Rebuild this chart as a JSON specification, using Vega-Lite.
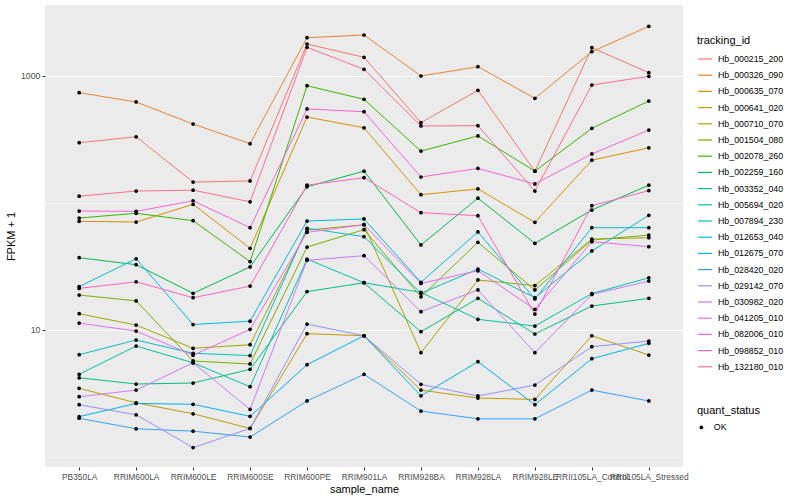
{
  "$schema": "https://vega.github.io/schema/vega-lite/v6.json",
  "width": 638,
  "height": 462,
  "autosize": {"type": "none"},
  "padding": {"left": 45, "top": 5, "right": 117, "bottom": 33},
  "background": "white",
  "config": {
    "font": "Liberation Sans",
    "view": {"fill": "#EBEBEB", "stroke": null},
    "axis": {"domain": false, "tickColor": "#333333", "tickSize": 3, "labelColor": "#4D4D4D", "labelFontSize": 8.8, "titleFontSize": 11, "titleFontWeight": "normal", "titleColor": "black", "gridColor": "white"},
    "legend": {"padding": 0, "titleFontSize": 11, "titleFontWeight": "normal", "titleColor": "black", "labelFontSize": 8.8, "labelColor": "black"}
  },
  "data": {"values": [
    {"sample_name":"PB350LA","tracking_id":"Hb_000215_200","FPKM":298,"quant_status":"OK"},
    {"sample_name":"RRIM600LA","tracking_id":"Hb_000215_200","FPKM":332,"quant_status":"OK"},
    {"sample_name":"RRIM600LE","tracking_id":"Hb_000215_200","FPKM":146,"quant_status":"OK"},
    {"sample_name":"RRIM600SE","tracking_id":"Hb_000215_200","FPKM":149,"quant_status":"OK"},
    {"sample_name":"RRIM600PE","tracking_id":"Hb_000215_200","FPKM":1787,"quant_status":"OK"},
    {"sample_name":"RRIM901LA","tracking_id":"Hb_000215_200","FPKM":1404,"quant_status":"OK"},
    {"sample_name":"RRIM928BA","tracking_id":"Hb_000215_200","FPKM":429,"quant_status":"OK"},
    {"sample_name":"RRIM928LA","tracking_id":"Hb_000215_200","FPKM":771,"quant_status":"OK"},
    {"sample_name":"RRIM928LE","tracking_id":"Hb_000215_200","FPKM":178,"quant_status":"OK"},
    {"sample_name":"RRII105LA_Control","tracking_id":"Hb_000215_200","FPKM":1671,"quant_status":"OK"},
    {"sample_name":"RRII105LA_Stressed","tracking_id":"Hb_000215_200","FPKM":1062,"quant_status":"OK"},

    {"sample_name":"PB350LA","tracking_id":"Hb_000326_090","FPKM":739,"quant_status":"OK"},
    {"sample_name":"RRIM600LA","tracking_id":"Hb_000326_090","FPKM":624,"quant_status":"OK"},
    {"sample_name":"RRIM600LE","tracking_id":"Hb_000326_090","FPKM":418,"quant_status":"OK"},
    {"sample_name":"RRIM600SE","tracking_id":"Hb_000326_090","FPKM":293,"quant_status":"OK"},
    {"sample_name":"RRIM600PE","tracking_id":"Hb_000326_090","FPKM":2003,"quant_status":"OK"},
    {"sample_name":"RRIM901LA","tracking_id":"Hb_000326_090","FPKM":2104,"quant_status":"OK"},
    {"sample_name":"RRIM928BA","tracking_id":"Hb_000326_090","FPKM":1000,"quant_status":"OK"},
    {"sample_name":"RRIM928LA","tracking_id":"Hb_000326_090","FPKM":1184,"quant_status":"OK"},
    {"sample_name":"RRIM928LE","tracking_id":"Hb_000326_090","FPKM":667,"quant_status":"OK"},
    {"sample_name":"RRII105LA_Control","tracking_id":"Hb_000326_090","FPKM":1554,"quant_status":"OK"},
    {"sample_name":"RRII105LA_Stressed","tracking_id":"Hb_000326_090","FPKM":2463,"quant_status":"OK"},

    {"sample_name":"PB350LA","tracking_id":"Hb_000635_070","FPKM":71.6,"quant_status":"OK"},
    {"sample_name":"RRIM600LA","tracking_id":"Hb_000635_070","FPKM":70.7,"quant_status":"OK"},
    {"sample_name":"RRIM600LE","tracking_id":"Hb_000635_070","FPKM":97.5,"quant_status":"OK"},
    {"sample_name":"RRIM600SE","tracking_id":"Hb_000635_070","FPKM":43.9,"quant_status":"OK"},
    {"sample_name":"RRIM600PE","tracking_id":"Hb_000635_070","FPKM":475,"quant_status":"OK"},
    {"sample_name":"RRIM901LA","tracking_id":"Hb_000635_070","FPKM":391,"quant_status":"OK"},
    {"sample_name":"RRIM928BA","tracking_id":"Hb_000635_070","FPKM":116,"quant_status":"OK"},
    {"sample_name":"RRIM928LA","tracking_id":"Hb_000635_070","FPKM":129,"quant_status":"OK"},
    {"sample_name":"RRIM928LE","tracking_id":"Hb_000635_070","FPKM":70.3,"quant_status":"OK"},
    {"sample_name":"RRII105LA_Control","tracking_id":"Hb_000635_070","FPKM":217,"quant_status":"OK"},
    {"sample_name":"RRII105LA_Stressed","tracking_id":"Hb_000635_070","FPKM":272,"quant_status":"OK"},

    {"sample_name":"PB350LA","tracking_id":"Hb_000641_020","FPKM":3.46,"quant_status":"OK"},
    {"sample_name":"RRIM600LA","tracking_id":"Hb_000641_020","FPKM":2.66,"quant_status":"OK"},
    {"sample_name":"RRIM600LE","tracking_id":"Hb_000641_020","FPKM":2.18,"quant_status":"OK"},
    {"sample_name":"RRIM600SE","tracking_id":"Hb_000641_020","FPKM":1.67,"quant_status":"OK"},
    {"sample_name":"RRIM600PE","tracking_id":"Hb_000641_020","FPKM":9.32,"quant_status":"OK"},
    {"sample_name":"RRIM901LA","tracking_id":"Hb_000641_020","FPKM":8.98,"quant_status":"OK"},
    {"sample_name":"RRIM928BA","tracking_id":"Hb_000641_020","FPKM":3.35,"quant_status":"OK"},
    {"sample_name":"RRIM928LA","tracking_id":"Hb_000641_020","FPKM":2.90,"quant_status":"OK"},
    {"sample_name":"RRIM928LE","tracking_id":"Hb_000641_020","FPKM":2.83,"quant_status":"OK"},
    {"sample_name":"RRII105LA_Control","tracking_id":"Hb_000641_020","FPKM":8.98,"quant_status":"OK"},
    {"sample_name":"RRII105LA_Stressed","tracking_id":"Hb_000641_020","FPKM":6.33,"quant_status":"OK"},

    {"sample_name":"PB350LA","tracking_id":"Hb_000710_070","FPKM":13.4,"quant_status":"OK"},
    {"sample_name":"RRIM600LA","tracking_id":"Hb_000710_070","FPKM":10.9,"quant_status":"OK"},
    {"sample_name":"RRIM600LE","tracking_id":"Hb_000710_070","FPKM":7.15,"quant_status":"OK"},
    {"sample_name":"RRIM600SE","tracking_id":"Hb_000710_070","FPKM":7.63,"quant_status":"OK"},
    {"sample_name":"RRIM600PE","tracking_id":"Hb_000710_070","FPKM":61.1,"quant_status":"OK"},
    {"sample_name":"RRIM901LA","tracking_id":"Hb_000710_070","FPKM":67.3,"quant_status":"OK"},
    {"sample_name":"RRIM928BA","tracking_id":"Hb_000710_070","FPKM":6.60,"quant_status":"OK"},
    {"sample_name":"RRIM928LA","tracking_id":"Hb_000710_070","FPKM":24.7,"quant_status":"OK"},
    {"sample_name":"RRIM928LE","tracking_id":"Hb_000710_070","FPKM":22.3,"quant_status":"OK"},
    {"sample_name":"RRII105LA_Control","tracking_id":"Hb_000710_070","FPKM":51.9,"quant_status":"OK"},
    {"sample_name":"RRII105LA_Stressed","tracking_id":"Hb_000710_070","FPKM":53.2,"quant_status":"OK"},

    {"sample_name":"PB350LA","tracking_id":"Hb_001504_080","FPKM":18.8,"quant_status":"OK"},
    {"sample_name":"RRIM600LA","tracking_id":"Hb_001504_080","FPKM":16.9,"quant_status":"OK"},
    {"sample_name":"RRIM600LE","tracking_id":"Hb_001504_080","FPKM":5.68,"quant_status":"OK"},
    {"sample_name":"RRIM600SE","tracking_id":"Hb_001504_080","FPKM":5.38,"quant_status":"OK"},
    {"sample_name":"RRIM600PE","tracking_id":"Hb_001504_080","FPKM":44.9,"quant_status":"OK"},
    {"sample_name":"RRIM901LA","tracking_id":"Hb_001504_080","FPKM":61.5,"quant_status":"OK"},
    {"sample_name":"RRIM928BA","tracking_id":"Hb_001504_080","FPKM":18.2,"quant_status":"OK"},
    {"sample_name":"RRIM928LA","tracking_id":"Hb_001504_080","FPKM":48.9,"quant_status":"OK"},
    {"sample_name":"RRIM928LE","tracking_id":"Hb_001504_080","FPKM":20.6,"quant_status":"OK"},
    {"sample_name":"RRII105LA_Control","tracking_id":"Hb_001504_080","FPKM":51.0,"quant_status":"OK"},
    {"sample_name":"RRII105LA_Stressed","tracking_id":"Hb_001504_080","FPKM":55.8,"quant_status":"OK"},

    {"sample_name":"PB350LA","tracking_id":"Hb_002078_260","FPKM":76.0,"quant_status":"OK"},
    {"sample_name":"RRIM600LA","tracking_id":"Hb_002078_260","FPKM":82.8,"quant_status":"OK"},
    {"sample_name":"RRIM600LE","tracking_id":"Hb_002078_260","FPKM":72.4,"quant_status":"OK"},
    {"sample_name":"RRIM600SE","tracking_id":"Hb_002078_260","FPKM":34.5,"quant_status":"OK"},
    {"sample_name":"RRIM600PE","tracking_id":"Hb_002078_260","FPKM":839,"quant_status":"OK"},
    {"sample_name":"RRIM901LA","tracking_id":"Hb_002078_260","FPKM":655,"quant_status":"OK"},
    {"sample_name":"RRIM928BA","tracking_id":"Hb_002078_260","FPKM":256,"quant_status":"OK"},
    {"sample_name":"RRIM928LA","tracking_id":"Hb_002078_260","FPKM":337,"quant_status":"OK"},
    {"sample_name":"RRIM928LE","tracking_id":"Hb_002078_260","FPKM":178,"quant_status":"OK"},
    {"sample_name":"RRII105LA_Control","tracking_id":"Hb_002078_260","FPKM":387,"quant_status":"OK"},
    {"sample_name":"RRII105LA_Stressed","tracking_id":"Hb_002078_260","FPKM":635,"quant_status":"OK"},

    {"sample_name":"PB350LA","tracking_id":"Hb_002259_160","FPKM":37.0,"quant_status":"OK"},
    {"sample_name":"RRIM600LA","tracking_id":"Hb_002259_160","FPKM":32.6,"quant_status":"OK"},
    {"sample_name":"RRIM600LE","tracking_id":"Hb_002259_160","FPKM":19.4,"quant_status":"OK"},
    {"sample_name":"RRIM600SE","tracking_id":"Hb_002259_160","FPKM":31.3,"quant_status":"OK"},
    {"sample_name":"RRIM600PE","tracking_id":"Hb_002259_160","FPKM":134,"quant_status":"OK"},
    {"sample_name":"RRIM901LA","tracking_id":"Hb_002259_160","FPKM":178,"quant_status":"OK"},
    {"sample_name":"RRIM928BA","tracking_id":"Hb_002259_160","FPKM":46.6,"quant_status":"OK"},
    {"sample_name":"RRIM928LA","tracking_id":"Hb_002259_160","FPKM":109,"quant_status":"OK"},
    {"sample_name":"RRIM928LE","tracking_id":"Hb_002259_160","FPKM":48.0,"quant_status":"OK"},
    {"sample_name":"RRII105LA_Control","tracking_id":"Hb_002259_160","FPKM":87.9,"quant_status":"OK"},
    {"sample_name":"RRII105LA_Stressed","tracking_id":"Hb_002259_160","FPKM":138,"quant_status":"OK"},

    {"sample_name":"PB350LA","tracking_id":"Hb_003352_040","FPKM":4.19,"quant_status":"OK"},
    {"sample_name":"RRIM600LA","tracking_id":"Hb_003352_040","FPKM":3.74,"quant_status":"OK"},
    {"sample_name":"RRIM600LE","tracking_id":"Hb_003352_040","FPKM":3.81,"quant_status":"OK"},
    {"sample_name":"RRIM600SE","tracking_id":"Hb_003352_040","FPKM":4.88,"quant_status":"OK"},
    {"sample_name":"RRIM600PE","tracking_id":"Hb_003352_040","FPKM":20.0,"quant_status":"OK"},
    {"sample_name":"RRIM901LA","tracking_id":"Hb_003352_040","FPKM":23.5,"quant_status":"OK"},
    {"sample_name":"RRIM928BA","tracking_id":"Hb_003352_040","FPKM":9.66,"quant_status":"OK"},
    {"sample_name":"RRIM928LA","tracking_id":"Hb_003352_040","FPKM":17.7,"quant_status":"OK"},
    {"sample_name":"RRIM928LE","tracking_id":"Hb_003352_040","FPKM":9.27,"quant_status":"OK"},
    {"sample_name":"RRII105LA_Control","tracking_id":"Hb_003352_040","FPKM":15.4,"quant_status":"OK"},
    {"sample_name":"RRII105LA_Stressed","tracking_id":"Hb_003352_040","FPKM":17.7,"quant_status":"OK"},

    {"sample_name":"PB350LA","tracking_id":"Hb_005694_020","FPKM":4.46,"quant_status":"OK"},
    {"sample_name":"RRIM600LA","tracking_id":"Hb_005694_020","FPKM":7.45,"quant_status":"OK"},
    {"sample_name":"RRIM600LE","tracking_id":"Hb_005694_020","FPKM":5.50,"quant_status":"OK"},
    {"sample_name":"RRIM600SE","tracking_id":"Hb_005694_020","FPKM":3.56,"quant_status":"OK"},
    {"sample_name":"RRIM600PE","tracking_id":"Hb_005694_020","FPKM":36.1,"quant_status":"OK"},
    {"sample_name":"RRIM901LA","tracking_id":"Hb_005694_020","FPKM":23.5,"quant_status":"OK"},
    {"sample_name":"RRIM928BA","tracking_id":"Hb_005694_020","FPKM":19.7,"quant_status":"OK"},
    {"sample_name":"RRIM928LA","tracking_id":"Hb_005694_020","FPKM":12.1,"quant_status":"OK"},
    {"sample_name":"RRIM928LE","tracking_id":"Hb_005694_020","FPKM":10.7,"quant_status":"OK"},
    {"sample_name":"RRII105LA_Control","tracking_id":"Hb_005694_020","FPKM":19.3,"quant_status":"OK"},
    {"sample_name":"RRII105LA_Stressed","tracking_id":"Hb_005694_020","FPKM":25.7,"quant_status":"OK"},

    {"sample_name":"PB350LA","tracking_id":"Hb_007894_230","FPKM":6.37,"quant_status":"OK"},
    {"sample_name":"RRIM600LA","tracking_id":"Hb_007894_230","FPKM":8.31,"quant_status":"OK"},
    {"sample_name":"RRIM600LE","tracking_id":"Hb_007894_230","FPKM":6.53,"quant_status":"OK"},
    {"sample_name":"RRIM600SE","tracking_id":"Hb_007894_230","FPKM":6.27,"quant_status":"OK"},
    {"sample_name":"RRIM600PE","tracking_id":"Hb_007894_230","FPKM":63.1,"quant_status":"OK"},
    {"sample_name":"RRIM901LA","tracking_id":"Hb_007894_230","FPKM":54.2,"quant_status":"OK"},
    {"sample_name":"RRIM928BA","tracking_id":"Hb_007894_230","FPKM":19.4,"quant_status":"OK"},
    {"sample_name":"RRIM928LA","tracking_id":"Hb_007894_230","FPKM":30.1,"quant_status":"OK"},
    {"sample_name":"RRIM928LE","tracking_id":"Hb_007894_230","FPKM":17.9,"quant_status":"OK"},
    {"sample_name":"RRII105LA_Control","tracking_id":"Hb_007894_230","FPKM":41.8,"quant_status":"OK"},
    {"sample_name":"RRII105LA_Stressed","tracking_id":"Hb_007894_230","FPKM":79.9,"quant_status":"OK"},

    {"sample_name":"PB350LA","tracking_id":"Hb_012653_040","FPKM":21.9,"quant_status":"OK"},
    {"sample_name":"RRIM600LA","tracking_id":"Hb_012653_040","FPKM":36.3,"quant_status":"OK"},
    {"sample_name":"RRIM600LE","tracking_id":"Hb_012653_040","FPKM":11.0,"quant_status":"OK"},
    {"sample_name":"RRIM600SE","tracking_id":"Hb_012653_040","FPKM":11.7,"quant_status":"OK"},
    {"sample_name":"RRIM600PE","tracking_id":"Hb_012653_040","FPKM":72.0,"quant_status":"OK"},
    {"sample_name":"RRIM901LA","tracking_id":"Hb_012653_040","FPKM":74.7,"quant_status":"OK"},
    {"sample_name":"RRIM928BA","tracking_id":"Hb_012653_040","FPKM":23.7,"quant_status":"OK"},
    {"sample_name":"RRIM928LA","tracking_id":"Hb_012653_040","FPKM":59.0,"quant_status":"OK"},
    {"sample_name":"RRIM928LE","tracking_id":"Hb_012653_040","FPKM":17.5,"quant_status":"OK"},
    {"sample_name":"RRII105LA_Control","tracking_id":"Hb_012653_040","FPKM":63.8,"quant_status":"OK"},
    {"sample_name":"RRII105LA_Stressed","tracking_id":"Hb_012653_040","FPKM":63.8,"quant_status":"OK"},

    {"sample_name":"PB350LA","tracking_id":"Hb_012675_070","FPKM":2.07,"quant_status":"OK"},
    {"sample_name":"RRIM600LA","tracking_id":"Hb_012675_070","FPKM":2.63,"quant_status":"OK"},
    {"sample_name":"RRIM600LE","tracking_id":"Hb_012675_070","FPKM":2.59,"quant_status":"OK"},
    {"sample_name":"RRIM600SE","tracking_id":"Hb_012675_070","FPKM":2.08,"quant_status":"OK"},
    {"sample_name":"RRIM600PE","tracking_id":"Hb_012675_070","FPKM":5.31,"quant_status":"OK"},
    {"sample_name":"RRIM901LA","tracking_id":"Hb_012675_070","FPKM":8.98,"quant_status":"OK"},
    {"sample_name":"RRIM928BA","tracking_id":"Hb_012675_070","FPKM":3.02,"quant_status":"OK"},
    {"sample_name":"RRIM928LA","tracking_id":"Hb_012675_070","FPKM":5.61,"quant_status":"OK"},
    {"sample_name":"RRIM928LE","tracking_id":"Hb_012675_070","FPKM":2.57,"quant_status":"OK"},
    {"sample_name":"RRII105LA_Control","tracking_id":"Hb_012675_070","FPKM":5.92,"quant_status":"OK"},
    {"sample_name":"RRII105LA_Stressed","tracking_id":"Hb_012675_070","FPKM":7.83,"quant_status":"OK"},

    {"sample_name":"PB350LA","tracking_id":"Hb_028420_020","FPKM":2.01,"quant_status":"OK"},
    {"sample_name":"RRIM600LA","tracking_id":"Hb_028420_020","FPKM":1.66,"quant_status":"OK"},
    {"sample_name":"RRIM600LE","tracking_id":"Hb_028420_020","FPKM":1.59,"quant_status":"OK"},
    {"sample_name":"RRIM600SE","tracking_id":"Hb_028420_020","FPKM":1.43,"quant_status":"OK"},
    {"sample_name":"RRIM600PE","tracking_id":"Hb_028420_020","FPKM":2.75,"quant_status":"OK"},
    {"sample_name":"RRIM901LA","tracking_id":"Hb_028420_020","FPKM":4.46,"quant_status":"OK"},
    {"sample_name":"RRIM928BA","tracking_id":"Hb_028420_020","FPKM":2.29,"quant_status":"OK"},
    {"sample_name":"RRIM928LA","tracking_id":"Hb_028420_020","FPKM":1.99,"quant_status":"OK"},
    {"sample_name":"RRIM928LE","tracking_id":"Hb_028420_020","FPKM":1.99,"quant_status":"OK"},
    {"sample_name":"RRII105LA_Control","tracking_id":"Hb_028420_020","FPKM":3.35,"quant_status":"OK"},
    {"sample_name":"RRII105LA_Stressed","tracking_id":"Hb_028420_020","FPKM":2.75,"quant_status":"OK"},

    {"sample_name":"PB350LA","tracking_id":"Hb_029142_070","FPKM":2.57,"quant_status":"OK"},
    {"sample_name":"RRIM600LA","tracking_id":"Hb_029142_070","FPKM":2.14,"quant_status":"OK"},
    {"sample_name":"RRIM600LE","tracking_id":"Hb_029142_070","FPKM":1.18,"quant_status":"OK"},
    {"sample_name":"RRIM600SE","tracking_id":"Hb_029142_070","FPKM":1.67,"quant_status":"OK"},
    {"sample_name":"RRIM600PE","tracking_id":"Hb_029142_070","FPKM":11.1,"quant_status":"OK"},
    {"sample_name":"RRIM901LA","tracking_id":"Hb_029142_070","FPKM":8.98,"quant_status":"OK"},
    {"sample_name":"RRIM928BA","tracking_id":"Hb_029142_070","FPKM":3.72,"quant_status":"OK"},
    {"sample_name":"RRIM928LA","tracking_id":"Hb_029142_070","FPKM":3.01,"quant_status":"OK"},
    {"sample_name":"RRIM928LE","tracking_id":"Hb_029142_070","FPKM":3.67,"quant_status":"OK"},
    {"sample_name":"RRII105LA_Control","tracking_id":"Hb_029142_070","FPKM":7.36,"quant_status":"OK"},
    {"sample_name":"RRII105LA_Stressed","tracking_id":"Hb_029142_070","FPKM":8.16,"quant_status":"OK"},

    {"sample_name":"PB350LA","tracking_id":"Hb_030982_020","FPKM":2.97,"quant_status":"OK"},
    {"sample_name":"RRIM600LA","tracking_id":"Hb_030982_020","FPKM":3.35,"quant_status":"OK"},
    {"sample_name":"RRIM600LE","tracking_id":"Hb_030982_020","FPKM":5.50,"quant_status":"OK"},
    {"sample_name":"RRIM600SE","tracking_id":"Hb_030982_020","FPKM":2.36,"quant_status":"OK"},
    {"sample_name":"RRIM600PE","tracking_id":"Hb_030982_020","FPKM":35.3,"quant_status":"OK"},
    {"sample_name":"RRIM901LA","tracking_id":"Hb_030982_020","FPKM":38.4,"quant_status":"OK"},
    {"sample_name":"RRIM928BA","tracking_id":"Hb_030982_020","FPKM":13.9,"quant_status":"OK"},
    {"sample_name":"RRIM928LA","tracking_id":"Hb_030982_020","FPKM":20.6,"quant_status":"OK"},
    {"sample_name":"RRIM928LE","tracking_id":"Hb_030982_020","FPKM":6.60,"quant_status":"OK"},
    {"sample_name":"RRII105LA_Control","tracking_id":"Hb_030982_020","FPKM":19.0,"quant_status":"OK"},
    {"sample_name":"RRII105LA_Stressed","tracking_id":"Hb_030982_020","FPKM":24.2,"quant_status":"OK"},

    {"sample_name":"PB350LA","tracking_id":"Hb_041205_010","FPKM":11.3,"quant_status":"OK"},
    {"sample_name":"RRIM600LA","tracking_id":"Hb_041205_010","FPKM":9.78,"quant_status":"OK"},
    {"sample_name":"RRIM600LE","tracking_id":"Hb_041205_010","FPKM":6.30,"quant_status":"OK"},
    {"sample_name":"RRIM600SE","tracking_id":"Hb_041205_010","FPKM":10.1,"quant_status":"OK"},
    {"sample_name":"RRIM600PE","tracking_id":"Hb_041205_010","FPKM":58.7,"quant_status":"OK"},
    {"sample_name":"RRIM901LA","tracking_id":"Hb_041205_010","FPKM":67.3,"quant_status":"OK"},
    {"sample_name":"RRIM928BA","tracking_id":"Hb_041205_010","FPKM":23.2,"quant_status":"OK"},
    {"sample_name":"RRIM928LA","tracking_id":"Hb_041205_010","FPKM":29.2,"quant_status":"OK"},
    {"sample_name":"RRIM928LE","tracking_id":"Hb_041205_010","FPKM":14.5,"quant_status":"OK"},
    {"sample_name":"RRII105LA_Control","tracking_id":"Hb_041205_010","FPKM":49.5,"quant_status":"OK"},
    {"sample_name":"RRII105LA_Stressed","tracking_id":"Hb_041205_010","FPKM":45.2,"quant_status":"OK"},

    {"sample_name":"PB350LA","tracking_id":"Hb_082006_010","FPKM":86.3,"quant_status":"OK"},
    {"sample_name":"RRIM600LA","tracking_id":"Hb_082006_010","FPKM":85.8,"quant_status":"OK"},
    {"sample_name":"RRIM600LE","tracking_id":"Hb_082006_010","FPKM":104,"quant_status":"OK"},
    {"sample_name":"RRIM600SE","tracking_id":"Hb_082006_010","FPKM":63.8,"quant_status":"OK"},
    {"sample_name":"RRIM600PE","tracking_id":"Hb_082006_010","FPKM":550,"quant_status":"OK"},
    {"sample_name":"RRIM901LA","tracking_id":"Hb_082006_010","FPKM":523,"quant_status":"OK"},
    {"sample_name":"RRIM928BA","tracking_id":"Hb_082006_010","FPKM":160,"quant_status":"OK"},
    {"sample_name":"RRIM928LA","tracking_id":"Hb_082006_010","FPKM":187,"quant_status":"OK"},
    {"sample_name":"RRIM928LE","tracking_id":"Hb_082006_010","FPKM":141,"quant_status":"OK"},
    {"sample_name":"RRII105LA_Control","tracking_id":"Hb_082006_010","FPKM":243,"quant_status":"OK"},
    {"sample_name":"RRII105LA_Stressed","tracking_id":"Hb_082006_010","FPKM":375,"quant_status":"OK"},

    {"sample_name":"PB350LA","tracking_id":"Hb_098852_010","FPKM":21.2,"quant_status":"OK"},
    {"sample_name":"RRIM600LA","tracking_id":"Hb_098852_010","FPKM":23.9,"quant_status":"OK"},
    {"sample_name":"RRIM600LE","tracking_id":"Hb_098852_010","FPKM":17.9,"quant_status":"OK"},
    {"sample_name":"RRIM600SE","tracking_id":"Hb_098852_010","FPKM":22.1,"quant_status":"OK"},
    {"sample_name":"RRIM600PE","tracking_id":"Hb_098852_010","FPKM":138,"quant_status":"OK"},
    {"sample_name":"RRIM901LA","tracking_id":"Hb_098852_010","FPKM":158,"quant_status":"OK"},
    {"sample_name":"RRIM928BA","tracking_id":"Hb_098852_010","FPKM":83.7,"quant_status":"OK"},
    {"sample_name":"RRIM928LA","tracking_id":"Hb_098852_010","FPKM":79.3,"quant_status":"OK"},
    {"sample_name":"RRIM928LE","tracking_id":"Hb_098852_010","FPKM":13.3,"quant_status":"OK"},
    {"sample_name":"RRII105LA_Control","tracking_id":"Hb_098852_010","FPKM":95.0,"quant_status":"OK"},
    {"sample_name":"RRII105LA_Stressed","tracking_id":"Hb_098852_010","FPKM":125,"quant_status":"OK"},

    {"sample_name":"PB350LA","tracking_id":"Hb_132180_010","FPKM":113,"quant_status":"OK"},
    {"sample_name":"RRIM600LA","tracking_id":"Hb_132180_010","FPKM":124,"quant_status":"OK"},
    {"sample_name":"RRIM600LE","tracking_id":"Hb_132180_010","FPKM":126,"quant_status":"OK"},
    {"sample_name":"RRIM600SE","tracking_id":"Hb_132180_010","FPKM":102,"quant_status":"OK"},
    {"sample_name":"RRIM600PE","tracking_id":"Hb_132180_010","FPKM":1683,"quant_status":"OK"},
    {"sample_name":"RRIM901LA","tracking_id":"Hb_132180_010","FPKM":1129,"quant_status":"OK"},
    {"sample_name":"RRIM928BA","tracking_id":"Hb_132180_010","FPKM":404,"quant_status":"OK"},
    {"sample_name":"RRIM928LA","tracking_id":"Hb_132180_010","FPKM":406,"quant_status":"OK"},
    {"sample_name":"RRIM928LE","tracking_id":"Hb_132180_010","FPKM":124,"quant_status":"OK"},
    {"sample_name":"RRII105LA_Control","tracking_id":"Hb_132180_010","FPKM":849,"quant_status":"OK"},
    {"sample_name":"RRII105LA_Stressed","tracking_id":"Hb_132180_010","FPKM":994,"quant_status":"OK"}
  ]},
  "encoding": {
    "x": {
      "field": "sample_name", "type": "nominal", "sort": null,
      "scale": {"type": "point", "padding": 0.6},
      "axis": {"title": "sample_name", "labelAngle": 0, "labelOverlap": false, "labelFontSize": 8.4, "labelPadding": 2, "titlePadding": 3, "gridWidth": 1}
    },
    "y": {
      "field": "FPKM", "type": "quantitative",
      "scale": {"type": "log", "domain": [0.83, 3626], "nice": false, "zero": false},
      "axis": {
        "title": "FPKM + 1",
        "values": [1, 10, 100, 1000],
        "labelExpr": "datum.value == 10 || datum.value == 1000 ? format(datum.value, 'd') : ''",
        "tickOpacity": {"condition": {"test": "datum.value == 10 || datum.value == 1000", "value": 1}, "value": 0},
        "gridWidth": {"condition": {"test": "datum.value == 10 || datum.value == 1000", "value": 1.1}, "value": 0.5},
        "labelPadding": 2,
        "titlePadding": 4
      }
    }
  },
  "layer": [
    {
      "mark": {"type": "line", "strokeWidth": 1},
      "encoding": {
        "color": {
          "field": "tracking_id", "type": "nominal",
          "scale": {
            "domain": ["Hb_000215_200","Hb_000326_090","Hb_000635_070","Hb_000641_020","Hb_000710_070","Hb_001504_080","Hb_002078_260","Hb_002259_160","Hb_003352_040","Hb_005694_020","Hb_007894_230","Hb_012653_040","Hb_012675_070","Hb_028420_020","Hb_029142_070","Hb_030982_020","Hb_041205_010","Hb_082006_010","Hb_098852_010","Hb_132180_010"],
            "range": ["#F8766D","#EA8331","#D89000","#C09B00","#A3A500","#7CAE00","#39B600","#00BB4E","#00BF7D","#00C1A3","#00BFC4","#00BAE0","#00B0F6","#35A2FF","#9590FF","#C77CFF","#E76BF3","#FA62DB","#FF62BC","#FF6C91"]
          },
          "legend": {"title": "tracking_id", "orient": "none", "legendX": 652, "legendY": 30, "symbolType": "stroke", "symbolSize": 200, "symbolStrokeWidth": 1.2, "rowPadding": 3.2, "titlePadding": 5, "labelOffset": 5}
        }
      }
    },
    {
      "mark": {"type": "point", "filled": true, "color": "black", "size": 14, "opacity": 1},
      "encoding": {
        "shape": {
          "field": "quant_status", "type": "nominal",
          "scale": {"range": ["circle"]},
          "legend": {"title": "quant_status", "orient": "none", "legendX": 652, "legendY": 400, "symbolSize": 14, "symbolFillColor": "black", "symbolStrokeColor": "black", "titlePadding": 7, "labelOffset": 8}
        }
      }
    }
  ]
}
